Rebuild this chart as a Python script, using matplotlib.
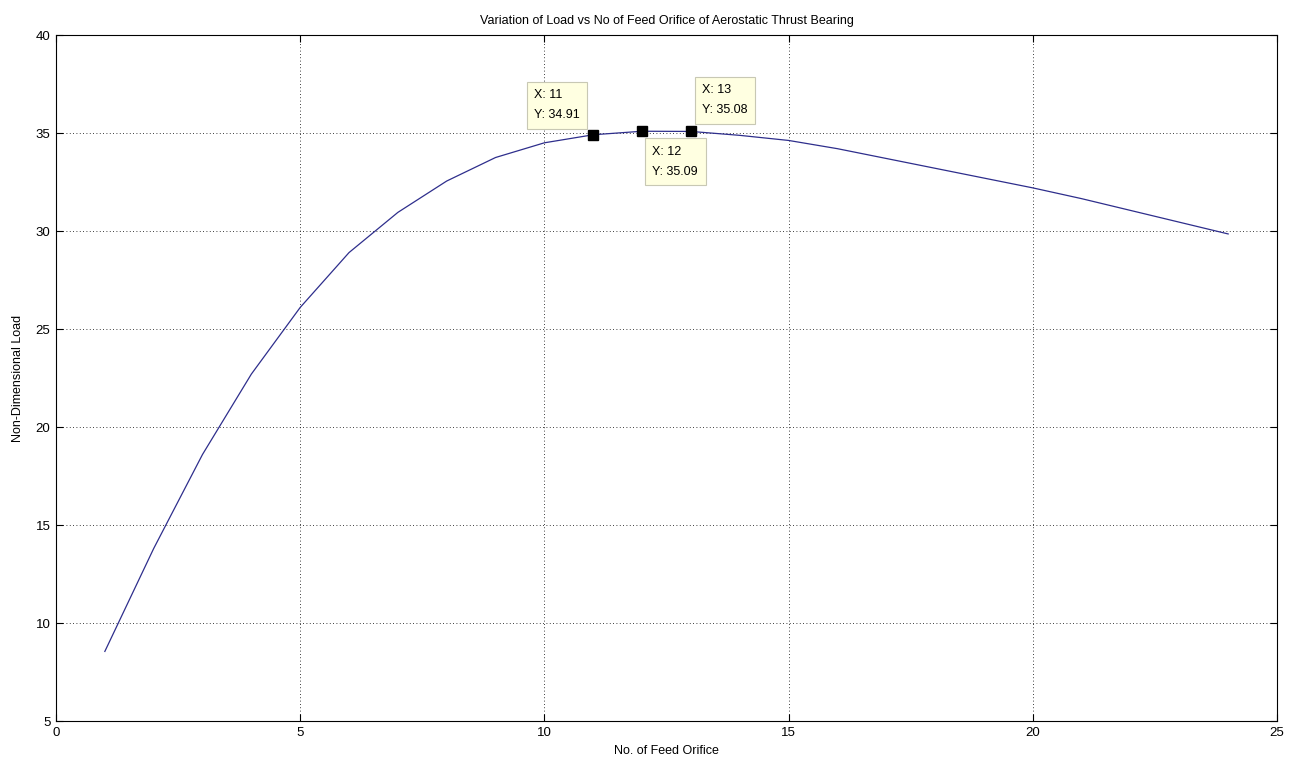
import matplotlib
matplotlib.use("Agg")
import matplotlib.pyplot as plt

plt.rcParams['font.family'] = ['Liberation Sans', 'DejaVu Sans']

orifices = list(range(1, 25))
load = [8.55, 13.8, 18.6, 22.7, 26.1, 28.9, 30.95, 32.55, 33.75, 34.5,
        34.91, 35.09, 35.08, 34.88, 34.62, 34.2, 33.7, 33.2, 32.7, 32.2,
        31.65, 31.05, 30.45, 29.85]
tip_x = [11, 12, 13]
tip_y = [34.91, 35.09, 35.08]
tip_offsets = [(-9.6, 9.6, 'right', 'bottom'),
               (7.5, -10.4, 'left', 'top'),
               (8.2, 11.0, 'left', 'bottom')]

fig = plt.figure(figsize=(12.94, 7.65), dpi=100)
ax = fig.add_axes([56/1294, 1-721/765, (1277-56)/1294, (721-35)/765])

ax.plot(orifices, load, color='#2e2e8c', lw=0.9)
ax.plot(tip_x, tip_y, ls='none', marker='s', ms=6.5, color='black')

for x, y, (dx, dy, ha, va) in zip(tip_x, tip_y, tip_offsets):
    ax.annotate(f"X: {x}\nY: {y:.2f}", xy=(x, y), xytext=(dx, dy),
                textcoords='offset points', ha=ha, va=va, fontsize=9,
                linespacing=1.9, multialignment='left',
                bbox=dict(boxstyle='square,pad=0.6', fc='#ffffe1', ec='#c8c8b4', lw=0.8))

ax.set_xlim(0, 25)
ax.set_ylim(5, 40)
ax.set_xticks([0, 5, 10, 15, 20, 25])
ax.set_yticks([5, 10, 15, 20, 25, 30, 35, 40])
ax.grid(True, color='black', ls=(0, (1, 3)), lw=0.6)
ax.tick_params(direction='in', top=True, right=True, length=5, labelsize=9.5, width=0.8, pad=4)
for s in ax.spines.values():
    s.set_linewidth(0.8)

ax.set_title("Variation of Load vs No of Feed Orifice of Aerostatic Thrust Bearing", fontsize=9, pad=8)
ax.set_xlabel("No. of Feed Orifice", fontsize=9, labelpad=5)
ax.set_ylabel("Non-Dimensional Load", fontsize=9, labelpad=8)

fig.savefig("out.png", dpi=100)
